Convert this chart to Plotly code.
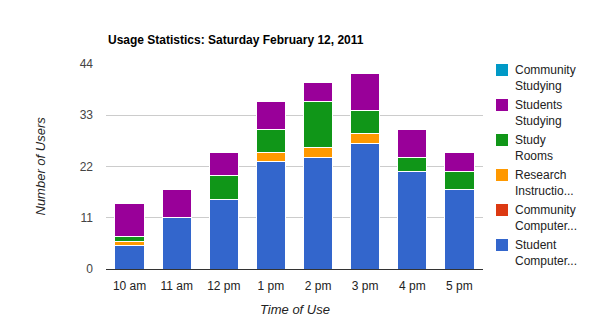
import plotly.graph_objects as go

categories = ["10 am", "11 am", "12 pm", "1 pm", "2 pm", "3 pm", "4 pm", "5 pm"]
student_computers = [5, 11, 15, 23, 24, 27, 21, 17]
community_computers = [0, 0, 0, 0, 0, 0, 0, 0]
research_instruction = [1, 0, 0, 2, 2, 2, 0, 0]
study_rooms = [1, 0, 5, 5, 10, 5, 3, 4]
students_studying = [7, 6, 5, 6, 4, 8, 6, 4]
community_studying = [0, 0, 0, 0, 0, 0, 0, 0]

series = [
    ("Student<br>Computer...", student_computers, "#3366cc"),
    ("Community<br>Computer...", community_computers, "#dc3912"),
    ("Research<br>Instructio...", research_instruction, "#ff9900"),
    ("Study<br>Rooms", study_rooms, "#109618"),
    ("Students<br>Studying", students_studying, "#990099"),
    ("Community<br>Studying", community_studying, "#0099c6"),
]
y_ticks = [0, 11, 22, 33, 44]

FONT = "Liberation Sans, Arial, sans-serif"
fig = go.Figure()
for name, vals, color in series:
    fig.add_trace(go.Bar(
        x=categories, y=vals, name=name,
        marker=dict(color=color, line=dict(color="white", width=1)),
        showlegend=False,
    ))

# Legend drawn manually (top entry = last series)
L, T = 106, 64
annotations = []
shapes = []
W, H = 590, 332
for i, (name, vals, color) in enumerate(reversed(series)):
    top = 64 + 35 * i
    shapes.append(dict(type="rect", xref="paper", yref="paper",
                       x0=(496 - L) / 377, x1=(508 - L) / 377,
                       y0=(269 - top) / 205, y1=(269 - top - 12) / 205,
                       fillcolor=color, line=dict(width=0)))
    annotations.append(dict(xref="paper", yref="paper",
                            x=(513 - L) / 377, y=(269 - top + 3) / 205,
                            xanchor="left", yanchor="top", showarrow=False,
                            align="left", text=name,
                            font=dict(family=FONT, size=12, color="#222222")))

annotations.append(dict(xref="paper", yref="paper", x=0, y=(269 - 40) / 205,
                        xanchor="left", yanchor="middle", showarrow=False,
                        text="<b>Usage Statistics: Saturday February 12, 2011</b>",
                        font=dict(family=FONT, size=12, color="#000000")))
annotations.append(dict(xref="paper", yref="paper", x=0.5, y=(269 - 309) / 205,
                        xanchor="center", yanchor="middle", showarrow=False,
                        text="<i>Time of Use</i>",
                        font=dict(family=FONT, size=13, color="#222222")))
annotations.append(dict(xref="paper", yref="paper", x=(40 - L) / 377, y=0.5,
                        xanchor="center", yanchor="middle", showarrow=False,
                        textangle=-90, text="<i>Number of Users</i>",
                        font=dict(family=FONT, size=13, color="#222222")))

fig.update_layout(
    barmode="stack",
    bargap=0.38,
    width=W, height=H,
    margin=dict(l=106, r=107, t=64, b=63),
    paper_bgcolor="white", plot_bgcolor="white",
    font=dict(family=FONT, size=12, color="#444444"),
    annotations=annotations,
    shapes=shapes,
    xaxis=dict(showgrid=False, ticks="", showline=True, linecolor="#333333",
               linewidth=1, tickfont=dict(size=12, color="#222222"),
               ticklabelstandoff=6),
    yaxis=dict(range=[0, 44], tickvals=y_ticks, showgrid=True, gridcolor="#cccccc",
               zeroline=False, showline=False, ticks="",
               tickfont=dict(size=12, color="#444444"), ticklabelstandoff=12),
)
fig.write_html("out.html")
